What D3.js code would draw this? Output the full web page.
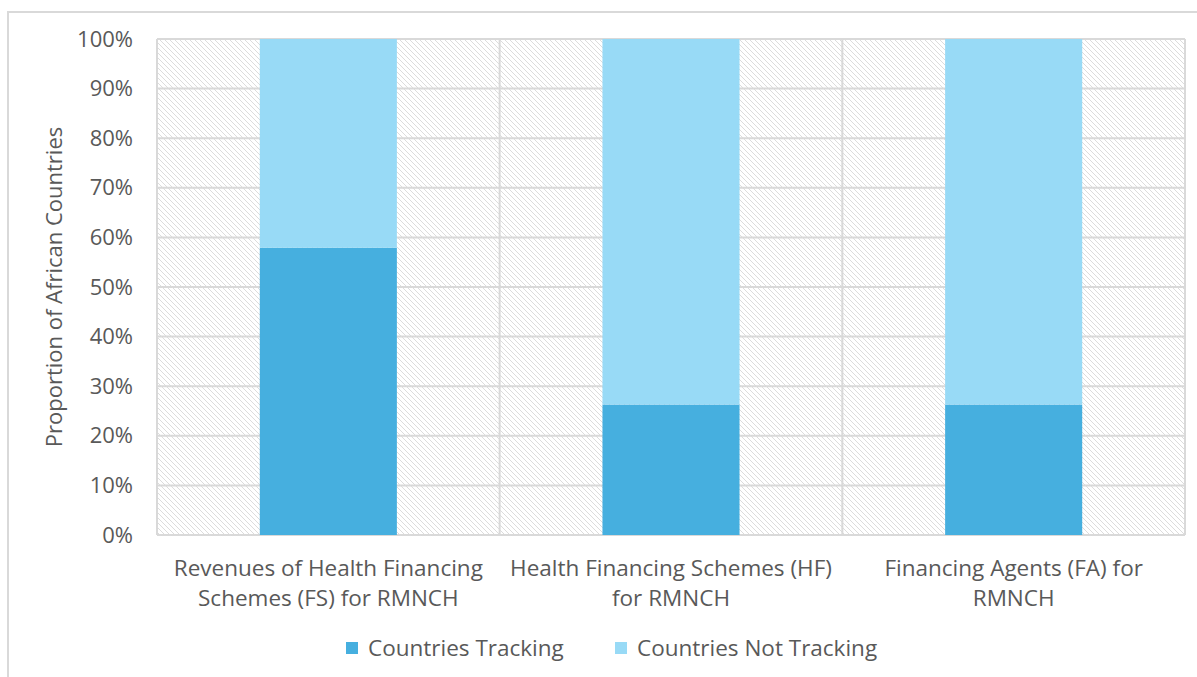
<!DOCTYPE html>
<html lang="en">
<head>
    <meta charset="UTF-8">
    <title>Tracking of RMNCH Expenditure</title>
    <script src="https://d3js.org/d3.v7.min.js"></script>
    <style>
        body { margin: 0; background: #fff; }
        text { font-family: "Open Sans", sans-serif; fill: #595959; }
    </style>
</head>
<body>
    <svg id="chart" width="1197" height="677"></svg>
    <script>
        const categories = [
            ["Revenues of Health Financing", "Schemes (FS) for RMNCH"],
            ["Health Financing Schemes (HF)", "for RMNCH"],
            ["Financing Agents (FA) for", "RMNCH"]
        ];
        const tracking = [57.9, 26.3, 26.3];
        const notTracking = [42.1, 73.7, 73.7];
        const seriesNames = ["Countries Tracking", "Countries Not Tracking"];
        const seriesColors = ["#46afdf", "#98daf6"];
        const yTicks = [0, 10, 20, 30, 40, 50, 60, 70, 80, 90, 100];

        const svg = d3.select("#chart");
        const plot = { left: 157, right: 1185, top: 39, bottom: 535 };

        // outer chart frame (only left and top show in the crop)
        svg.append("rect")
            .attr("x", 8).attr("y", 12)
            .attr("width", 1220).attr("height", 700)
            .attr("fill", "none").attr("stroke", "#d9d9d9").attr("stroke-width", 2);

        const defs = svg.append("defs");
        const pat = defs.append("pattern")
            .attr("id", "hatch")
            .attr("patternUnits", "userSpaceOnUse")
            .attr("width", 5).attr("height", 5);
        pat.append("rect").attr("width", 5).attr("height", 5).attr("fill", "#fff");
        pat.append("path")
            .attr("d", "M0,0 L5,5 M-1,4 L1,6 M4,-1 L6,1")
            .attr("stroke", "#dcdcdc").attr("stroke-width", 1);

        const x = d3.scaleBand()
            .domain(d3.range(categories.length))
            .range([plot.left, plot.right])
            .padding(0);
        const y = d3.scaleLinear().domain([0, 100]).range([plot.bottom, plot.top]);

        svg.append("rect")
            .attr("x", plot.left).attr("y", plot.top)
            .attr("width", plot.right - plot.left).attr("height", plot.bottom - plot.top)
            .attr("fill", "url(#hatch)");

        // horizontal gridlines
        svg.append("g").selectAll("line")
            .data(yTicks)
            .enter().append("line")
            .attr("x1", plot.left).attr("x2", plot.right)
            .attr("y1", d => y(d)).attr("y2", d => y(d))
            .attr("stroke", "#d9d9d9").attr("stroke-width", 2);

        // vertical category dividers
        svg.append("g").selectAll("line")
            .data(d3.range(categories.length + 1))
            .enter().append("line")
            .attr("x1", d => d < categories.length ? x(d) : plot.right)
            .attr("x2", d => d < categories.length ? x(d) : plot.right)
            .attr("y1", plot.top).attr("y2", plot.bottom)
            .attr("stroke", "#d9d9d9").attr("stroke-width", 2);

        // stacked bars
        const barW = x.bandwidth() * 0.4;
        const stacked = categories.map((c, i) => [
            { i: i, y0: 0, y1: tracking[i], color: seriesColors[0] },
            { i: i, y0: tracking[i], y1: tracking[i] + notTracking[i], color: seriesColors[1] }
        ]).flat();

        svg.append("g").selectAll("rect")
            .data(stacked)
            .enter().append("rect")
            .attr("x", d => x(d.i) + (x.bandwidth() - barW) / 2)
            .attr("y", d => y(d.y1))
            .attr("width", barW)
            .attr("height", d => y(d.y0) - y(d.y1))
            .attr("fill", d => d.color);

        // y axis
        const yAxis = d3.axisLeft(y)
            .tickValues(yTicks)
            .tickSize(0)
            .tickPadding(24)
            .tickFormat(d => d + "%");
        const yg = svg.append("g")
            .attr("transform", `translate(${plot.left},0)`)
            .call(yAxis);
        yg.select(".domain").remove();
        yg.selectAll("text")
            .style("font-family", '"Open Sans", sans-serif')
            .style("font-size", "22px")
            .attr("fill", "#595959");

        // category labels
        const cl = svg.append("g").selectAll("text")
            .data(categories)
            .enter().append("text")
            .attr("x", (d, i) => x(i) + x.bandwidth() / 2)
            .attr("y", 576)
            .attr("text-anchor", "middle")
            .style("font-size", "22.5px");
        cl.selectAll("tspan")
            .data(d => d)
            .enter().append("tspan")
            .attr("x", function () { return d3.select(this.parentNode).attr("x"); })
            .attr("dy", (d, i) => i === 0 ? 0 : 30)
            .text(d => d);

        // axis title
        svg.append("text")
            .attr("transform", `translate(62,${(plot.top + plot.bottom) / 2}) rotate(-90)`)
            .attr("text-anchor", "middle")
            .style("font-size", "22px")
            .text("Proportion of African Countries");

        // legend
        const legendX = [346, 615];
        const legend = svg.append("g").selectAll("g")
            .data(seriesNames)
            .enter().append("g")
            .attr("transform", (d, i) => `translate(${legendX[i]},642)`);
        legend.append("rect")
            .attr("width", 12).attr("height", 12)
            .attr("fill", (d, i) => seriesColors[i]);
        legend.append("text")
            .attr("x", 22).attr("y", 14)
            .style("font-size", "22.5px")
            .text(d => d);
    </script>
</body>
</html>
